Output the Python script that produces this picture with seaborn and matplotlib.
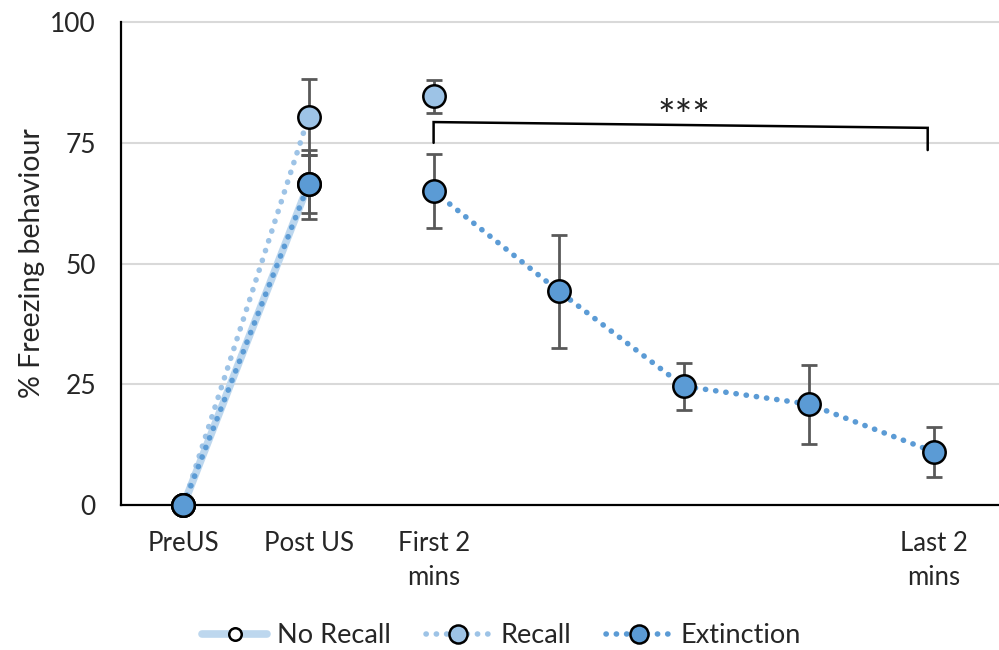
import numpy as np
import pandas as pd
import matplotlib
matplotlib.use("Agg")
import matplotlib.pyplot as plt
import seaborn as sns
from matplotlib.lines import Line2D

# --- data ---
tick_labels = ["PreUS", "Post US", "First 2\nmins", "", "", "", "Last 2\nmins"]

no_recall_x = [0, 1]
no_recall_mean = [0, 66.4]
no_recall_err = [0, 6.0]

recall_x = [0, 1, 2]
recall_mean = [0, 80.3, 84.6]
recall_err = [0, 7.9, 3.4]
recall_seg = ["a", "a", "b"]

extinction_x = [0, 1, 2, 3, 4, 5, 6]
extinction_mean = [0, 66.4, 65.0, 44.3, 24.6, 20.9, 11.0]
extinction_err = [0, 7.2, 7.6, 11.7, 4.9, 8.2, 5.2]
extinction_seg = ["a", "a", "b", "b", "b", "b", "b"]

sns.set_style("white")
plt.rcParams['font.family'] = ['Lato', 'DejaVu Sans']

c_none = "#BDD7EE"
c_rec = "#9DC3E6"
c_ext = "#5B9BD5"
c_err = "#595959"

df_nr = pd.DataFrame({"x": no_recall_x, "y": no_recall_mean})
df_rc = pd.DataFrame({"x": recall_x, "y": recall_mean, "seg": recall_seg})
df_ex = pd.DataFrame({"x": extinction_x, "y": extinction_mean, "seg": extinction_seg})

fig = plt.figure(figsize=(9.99, 6.5), dpi=100)
ax = fig.add_axes([0.121, 0.223, 0.879, 0.743])

# gridlines
for yv in [25, 50, 75, 100]:
    ax.axhline(yv, color="#D9D9D9", lw=1.5, zorder=0, clip_on=False)

# lines
sns.lineplot(data=df_nr, x="x", y="y", ax=ax, color=c_none, lw=5.5, zorder=1)
dot = (0, (0.05, 1.8))
for d, col in [(df_rc, c_rec), (df_ex, c_ext)]:
    for seg, g in d.groupby("seg"):
        if len(g) > 1:
            ln = sns.lineplot(data=g, x="x", y="y", ax=ax, color=col, lw=4.0, zorder=2)
            ln.lines[-1].set_linestyle(dot)
            ln.lines[-1].set_dash_capstyle("round")

# error bars
for xs, ms, es in [(no_recall_x, no_recall_mean, no_recall_err),
                   (recall_x, recall_mean, recall_err),
                   (extinction_x, extinction_mean, extinction_err)]:
    xs_ = [x for x, e in zip(xs, es) if e > 0]
    ms_ = [m for m, e in zip(ms, es) if e > 0]
    es_ = [e for e in es if e > 0]
    ax.errorbar(xs_, ms_, yerr=es_, fmt="none", ecolor=c_err, elinewidth=2,
                capsize=5.5, capthick=2, zorder=3)

# markers
sns.scatterplot(data=df_nr, x="x", y="y", ax=ax, color="white", s=260,
                edgecolor="black", linewidth=1.8, zorder=4, clip_on=False)
sns.scatterplot(data=df_rc, x="x", y="y", ax=ax, color=c_rec, s=260,
                edgecolor="black", linewidth=1.8, zorder=5, clip_on=False)
sns.scatterplot(data=df_ex, x="x", y="y", ax=ax, color=c_ext, s=260,
                edgecolor="black", linewidth=1.8, zorder=6, clip_on=False)

# significance bracket
ax.plot([2, 2, 5.95, 5.95], [75.0, 79.3, 78.1, 73.5], color="black", lw=1.8, zorder=7,
        solid_joinstyle="miter")
ax.text(4.0, 80.2, "***", ha="center", va="center", fontsize=30, color="#222222")

ax.set_xlim(-0.5, 6.52)
ax.set_ylim(0, 100)
ax.set_yticks([0, 25, 50, 75, 100])
ax.set_xticks(range(len(tick_labels)))
ax.set_xticklabels(tick_labels, fontsize=18.5, linespacing=1.45)
ax.tick_params(axis="y", labelsize=19, length=0, pad=18)
ax.tick_params(axis="x", length=0, pad=19)
ax.set_xlabel("")
ax.set_ylabel("% Freezing behaviour", fontsize=20.5, labelpad=4)
sns.despine(ax=ax)
for s in ["left", "bottom"]:
    ax.spines[s].set_color("black")
    ax.spines[s].set_linewidth(1.6)
    ax.spines[s].set_zorder(3.5)

handles = [
    Line2D([0], [0], color=c_none, lw=5.5, marker="o", markersize=9,
           markerfacecolor="white", markeredgecolor="black", markeredgewidth=1.8),
    Line2D([0], [0], color=c_rec, lw=4.0, linestyle=dot, dash_capstyle="round",
           marker="o", markersize=13, markerfacecolor=c_rec,
           markeredgecolor="black", markeredgewidth=1.8),
    Line2D([0], [0], color=c_ext, lw=4.0, linestyle=dot, dash_capstyle="round",
           marker="o", markersize=13, markerfacecolor=c_ext,
           markeredgecolor="black", markeredgewidth=1.8),
]
fig.legend(handles, ["No Recall", "Recall", "Extinction"], loc="center",
           bbox_to_anchor=(0.502, 0.022), ncol=3, frameon=False, fontsize=19.5,
           handlelength=2.4, columnspacing=1.3, handletextpad=0.35)

fig.savefig("out.png", dpi=100)
